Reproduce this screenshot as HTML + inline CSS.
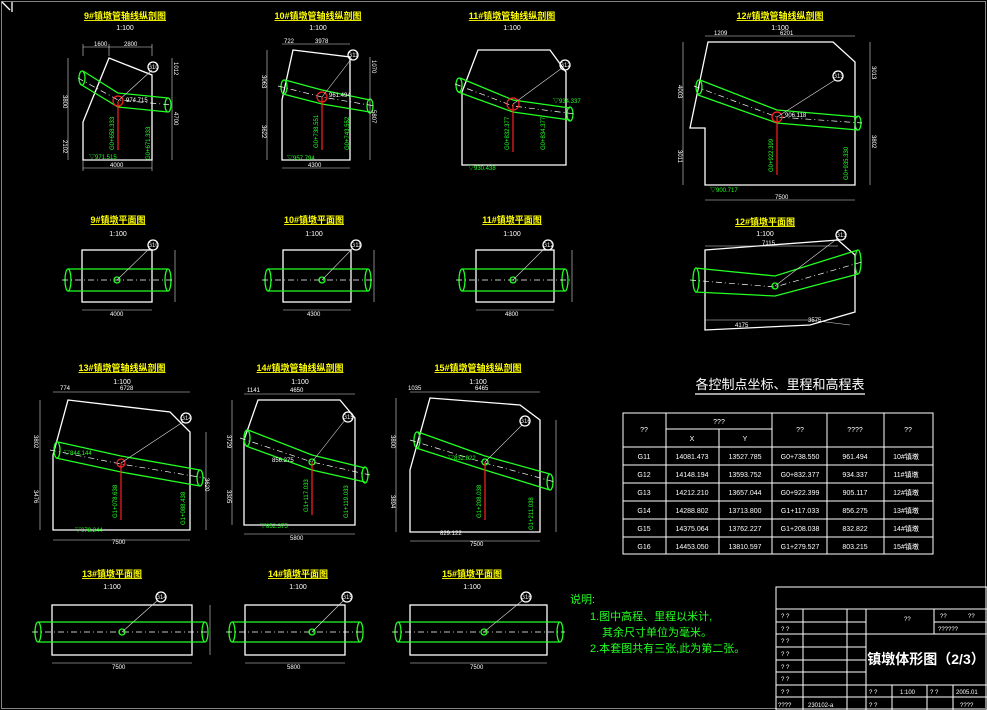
<!DOCTYPE html>
<html><head><meta charset="utf-8"><style>
html,body{margin:0;padding:0;background:#000;}
svg{display:block;font-family:"Liberation Sans","Noto Sans CJK SC",sans-serif;}
.w{stroke:#fff;fill:none;stroke-width:1.3}
.d{stroke:#ddd;fill:none;stroke-width:.6}
.g{stroke:#2f2;fill:none;stroke-width:1.3}
.c{stroke:#fff;fill:none;stroke-width:.7;stroke-dasharray:6 3 1 3}
.r{stroke:#f22;fill:none;stroke-width:1.2}
.t{fill:#fff;font-size:6px}
.tg{fill:#2f2;font-size:6px}
.y{fill:#ff0;font-size:9px;font-weight:bold;text-decoration:underline}
.s{fill:#fff;font-size:7px}
.tb{fill:#fff;font-size:8px}
</style></head><body>
<svg width="987" height="710" viewBox="0 0 987 710">
<rect x="0" y="0" width="987" height="710" fill="#000"/>
<rect x="1.5" y="1.5" width="984" height="707" class="d"/>
<path d="M2 2 L10 10 M12 2 L12 12" class="w"/>

<!-- ROW 1 titles -->
<text x="125" y="19" class="y" text-anchor="middle">9#镇墩管轴线纵剖图</text><text x="125" y="30" class="s" text-anchor="middle">1:100</text>
<text x="318" y="19" class="y" text-anchor="middle">10#镇墩管轴线纵剖图</text><text x="318" y="30" class="s" text-anchor="middle">1:100</text>
<text x="512" y="19" class="y" text-anchor="middle">11#镇墩管轴线纵剖图</text><text x="512" y="30" class="s" text-anchor="middle">1:100</text>
<text x="780" y="19" class="y" text-anchor="middle">12#镇墩管轴线纵剖图</text><text x="780" y="30" class="s" text-anchor="middle">1:100</text>

<!-- 9# elevation -->
<polygon points="109,58 152,75 152,160 83,160 83,122" class="w"/>
<path d="M83 71 L118 93 L168 98 M80 84 L118 107 L168 112" class="g"/>
<ellipse cx="82" cy="78" rx="3" ry="7" class="g"/><ellipse cx="168" cy="105" rx="3" ry="7" class="g"/>
<path d="M78 78 L118 100 L172 105" class="c"/>
<circle cx="118" cy="101" r="5" class="r"/><path d="M118 101 V150" class="r"/>
<path d="M118 101 L152 70" class="d"/><circle cx="153" cy="67" r="5" class="w"/><text x="153" y="69" class="t" text-anchor="middle">G10</text>
<text x="126" y="102" class="t">974.715</text><text x="89" y="159" class="tg">▽971.515</text>
<path d="M83 47 H152 M83 44 V56 M109 44 V56 M152 44 V56 M83 168 H152 M83 160 V171 M152 160 V171 M68 58 V160 M172 58 V160" class="d"/>
<text x="94" y="46" class="t">1600</text><text x="124" y="46" class="t">2800</text><text x="110" y="167" class="t">4000</text>
<text x="63" y="95" class="t" transform="rotate(90 63 95)">3800</text><text x="63" y="140" class="t" transform="rotate(90 63 140)">2102</text>
<text x="174" y="62" class="t" transform="rotate(90 174 62)">1012</text><text x="174" y="112" class="t" transform="rotate(90 174 112)">4700</text>
<text x="114" y="150" class="tg" transform="rotate(-90 114 150)">G0+658.333</text><text x="150" y="160" class="tg" transform="rotate(-90 150 160)">G0+671.333</text>

<!-- 10# elevation -->
<polygon points="293,50 350,57 350,160 282,160 282,100" class="w"/>
<path d="M285 80 L322 90 L370 100 M283 94 L322 104 L370 112" class="g"/>
<ellipse cx="284" cy="87" rx="3" ry="7" class="g"/><ellipse cx="370" cy="106" rx="3" ry="7" class="g"/>
<path d="M278 86 L322 97 L375 106" class="c"/>
<circle cx="322" cy="97" r="5" class="r"/><path d="M322 97 V150" class="r"/>
<path d="M322 97 L352 58" class="d"/><circle cx="353" cy="55" r="5" class="w"/><text x="353" y="57" class="t" text-anchor="middle">G11</text>
<text x="329" y="97" class="t">961.494</text><text x="287" y="160" class="tg">▽957.794</text>
<path d="M282 44 H350 M282 168 H350 M267 50 V160 M370 57 V160" class="d"/>
<text x="284" y="43" class="t">722</text><text x="315" y="43" class="t">3978</text><text x="308" y="167" class="t">4300</text>
<text x="262" y="75" class="t" transform="rotate(90 262 75)">3063</text><text x="262" y="125" class="t" transform="rotate(90 262 125)">3622</text>
<text x="372" y="60" class="t" transform="rotate(90 372 60)">1070</text><text x="372" y="110" class="t" transform="rotate(90 372 110)">5807</text>
<text x="318" y="148" class="tg" transform="rotate(-90 318 148)">G0+738.551</text><text x="349" y="150" class="tg" transform="rotate(-90 349 150)">G0+743.552</text>

<!-- 11# elevation -->
<polygon points="478,50 550,50 566,72 566,165 462,165 462,92" class="w"/>
<path d="M460 78 L513 100 L570 108 M458 92 L513 112 L570 120" class="g"/>
<ellipse cx="459" cy="85" rx="3" ry="7" class="g"/><ellipse cx="570" cy="114" rx="3" ry="7" class="g"/>
<path d="M455 84 L513 106 L575 114" class="c"/>
<circle cx="513" cy="104" r="6" class="r"/><path d="M513 104 V152" class="r"/>
<path d="M513 104 L562 68" class="d"/><circle cx="565" cy="65" r="5" class="w"/><text x="565" y="67" class="t" text-anchor="middle">G12</text>
<text x="553" y="103" class="tg">▽934.337</text><text x="468" y="170" class="tg">▽930.438</text>
<text x="509" y="150" class="tg" transform="rotate(-90 509 150)">G0+832.377</text><text x="545" y="150" class="tg" transform="rotate(-90 545 150)">G0+834.377</text>

<!-- 12# elevation -->
<polygon points="708,42 833,42 855,62 855,185 705,185 705,128 690,128" class="w"/>
<path d="M700 80 L777 110 L858 117 M698 95 L777 123 L858 130" class="g"/>
<ellipse cx="699" cy="87" rx="3" ry="7" class="g"/><ellipse cx="858" cy="123" rx="3" ry="7" class="g"/>
<path d="M694 86 L777 117 L862 123" class="c"/>
<circle cx="777" cy="117" r="5" class="r"/><path d="M777 117 V175" class="r"/>
<path d="M777 117 L835 80" class="d"/><circle cx="838" cy="76" r="5" class="w"/><text x="838" y="78" class="t" text-anchor="middle">G13</text>
<text x="785" y="117" class="t">906.118</text><text x="710" y="192" class="tg">▽900.717</text>
<path d="M705 36 H855 M705 200 H855 M683 42 V185 M870 42 V185" class="d"/>
<text x="714" y="35" class="t">1209</text><text x="780" y="35" class="t">6201</text><text x="775" y="199" class="t">7500</text>
<text x="678" y="85" class="t" transform="rotate(90 678 85)">4003</text><text x="678" y="150" class="t" transform="rotate(90 678 150)">3011</text>
<text x="872" y="66" class="t" transform="rotate(90 872 66)">3013</text><text x="872" y="135" class="t" transform="rotate(90 872 135)">3802</text>
<text x="773" y="172" class="tg" transform="rotate(-90 773 172)">G0+922.399</text><text x="848" y="180" class="tg" transform="rotate(-90 848 180)">G0+935.330</text>

<!-- ROW 2 plan titles -->
<text x="118" y="223" class="y" text-anchor="middle">9#镇墩平面图</text><text x="118" y="236" class="s" text-anchor="middle">1:100</text>
<text x="314" y="223" class="y" text-anchor="middle">10#镇墩平面图</text><text x="314" y="236" class="s" text-anchor="middle">1:100</text>
<text x="512" y="223" class="y" text-anchor="middle">11#镇墩平面图</text><text x="512" y="236" class="s" text-anchor="middle">1:100</text>
<text x="765" y="225" class="y" text-anchor="middle">12#镇墩平面图</text><text x="765" y="236" class="s" text-anchor="middle">1:100</text>

<g>
<rect x="82" y="250" width="70" height="52" class="w"/>
<path d="M68 269 H168 M68 291 H168" class="g"/><ellipse cx="68" cy="280" rx="3" ry="11" class="g"/><ellipse cx="168" cy="280" rx="3" ry="11" class="g"/>
<path d="M62 280 H172" class="c"/><circle cx="117" cy="280" r="3" class="g"/>
<path d="M117 280 L150 248" class="d"/><circle cx="153" cy="245" r="5" class="w"/><text x="153" y="247" class="t" text-anchor="middle">G10</text>
<path d="M82 310 H152 M175 250 V302" class="d"/><text x="110" y="316" class="t">4000</text>
</g>
<g>
<rect x="283" y="250" width="68" height="52" class="w"/>
<path d="M268 269 H368 M268 291 H368" class="g"/><ellipse cx="268" cy="280" rx="3" ry="11" class="g"/><ellipse cx="368" cy="280" rx="3" ry="11" class="g"/>
<path d="M262 280 H372" class="c"/><circle cx="322" cy="280" r="3" class="g"/>
<path d="M322 280 L353 248" class="d"/><circle cx="356" cy="245" r="5" class="w"/><text x="356" y="247" class="t" text-anchor="middle">G11</text>
<path d="M283 310 H351 M374 250 V302" class="d"/><text x="307" y="316" class="t">4300</text>
</g>
<g>
<rect x="476" y="250" width="78" height="52" class="w"/>
<path d="M462 269 H565 M462 291 H565" class="g"/><ellipse cx="462" cy="280" rx="3" ry="11" class="g"/><ellipse cx="565" cy="280" rx="3" ry="11" class="g"/>
<path d="M456 280 H570" class="c"/><circle cx="513" cy="280" r="3" class="g"/>
<path d="M513 280 L545 248" class="d"/><circle cx="548" cy="245" r="5" class="w"/><text x="548" y="247" class="t" text-anchor="middle">G12</text>
<path d="M476 310 H554 M572 250 V302" class="d"/><text x="505" y="316" class="t">4800</text>
</g>
<g>
<polygon points="705,250 838,240 855,255 855,312 810,325 705,330" class="w"/>
<path d="M695 268 L775 276 L858 250 M695 292 L775 296 L858 274" class="g"/><ellipse cx="696" cy="280" rx="3" ry="12" class="g"/><ellipse cx="858" cy="262" rx="3" ry="12" class="g"/>
<path d="M690 280 L775 287 L862 262" class="c"/><circle cx="775" cy="286" r="3" class="g"/>
<path d="M775 286 L838 238" class="d"/><circle cx="841" cy="235" r="5" class="w"/><text x="841" y="237" class="t" text-anchor="middle">G13</text>
<path d="M705 246 H838 M705 320 H810 L850 325" class="d"/><text x="762" y="245" class="t">7115</text><text x="735" y="327" class="t">4175</text><text x="808" y="322" class="t">3575</text>
</g>

<!-- ROW 3 titles -->
<text x="122" y="371" class="y" text-anchor="middle">13#镇墩管轴线纵剖图</text><text x="122" y="384" class="s" text-anchor="middle">1:100</text>
<text x="300" y="371" class="y" text-anchor="middle">14#镇墩管轴线纵剖图</text><text x="300" y="384" class="s" text-anchor="middle">1:100</text>
<text x="478" y="371" class="y" text-anchor="middle">15#镇墩管轴线纵剖图</text><text x="478" y="384" class="s" text-anchor="middle">1:100</text>

<!-- 13# -->
<polygon points="68,400 170,412 190,432 190,530 53,530 53,455" class="w"/>
<path d="M58 442 L121 456 L200 470 M56 458 L121 472 L200 486" class="g"/>
<ellipse cx="57" cy="450" rx="3" ry="8" class="g"/><ellipse cx="200" cy="478" rx="3" ry="8" class="g"/>
<path d="M50 450 L121 464 L205 478" class="c"/>
<circle cx="121" cy="463" r="4" class="r"/><path d="M121 463 V520" class="r"/>
<path d="M121 463 L183 422" class="d"/><circle cx="186" cy="418" r="5" class="w"/><text x="186" y="420" class="t" text-anchor="middle">G14</text>
<text x="64" y="455" class="tg">▽844.144</text><text x="75" y="532" class="tg">▽078.244</text>
<path d="M53 392 H190 M53 540 H190 M40 400 V530 M206 432 V530" class="d"/>
<text x="60" y="390" class="t">774</text><text x="120" y="390" class="t">6728</text><text x="112" y="544" class="t">7500</text>
<text x="34" y="435" class="t" transform="rotate(90 34 435)">3802</text><text x="34" y="490" class="t" transform="rotate(90 34 490)">3476</text>
<text x="205" y="478" class="t" transform="rotate(90 205 478)">3620</text>
<text x="117" y="518" class="tg" transform="rotate(-90 117 518)">G1+078.638</text><text x="185" y="525" class="tg" transform="rotate(-90 185 525)">G1+088.438</text>

<!-- 14# -->
<polygon points="258,400 340,400 355,418 355,525 244,525 244,440" class="w"/>
<path d="M248 430 L312 455 L365 468 M246 446 L312 470 L365 482" class="g"/>
<ellipse cx="247" cy="438" rx="3" ry="8" class="g"/><ellipse cx="365" cy="475" rx="3" ry="8" class="g"/>
<path d="M240 438 L312 462 L370 475" class="c"/>
<circle cx="312" cy="462" r="3" class="g"/><path d="M312 462 V515" class="r"/>
<path d="M312 462 L345 420" class="d"/><circle cx="348" cy="417" r="5" class="w"/><text x="348" y="419" class="t" text-anchor="middle">G15</text>
<text x="272" y="462" class="t">856.275</text><text x="260" y="528" class="tg">▽852.375</text>
<path d="M244 394 H355 M244 534 H355 M232 400 V525" class="d"/>
<text x="247" y="392" class="t">1141</text><text x="290" y="392" class="t">4650</text><text x="290" y="540" class="t">5800</text>
<text x="227" y="435" class="t" transform="rotate(90 227 435)">3729</text><text x="227" y="490" class="t" transform="rotate(90 227 490)">3305</text>
<text x="308" y="512" class="tg" transform="rotate(-90 308 512)">G1+117.033</text><text x="348" y="518" class="tg" transform="rotate(-90 348 518)">G1+119.033</text>

<!-- 15# -->
<polygon points="430,398 520,405 540,420 540,532 410,532 410,470" class="w"/>
<path d="M418 432 L485 456 L550 474 M416 448 L485 470 L550 490" class="g"/>
<ellipse cx="417" cy="440" rx="3" ry="8" class="g"/><ellipse cx="550" cy="482" rx="3" ry="8" class="g"/>
<path d="M410 440 L485 463 L555 482" class="c"/>
<circle cx="485" cy="462" r="3" class="g"/><path d="M485 462 V520" class="r"/>
<path d="M485 462 L522 425" class="d"/><circle cx="525" cy="421" r="5" class="w"/><text x="525" y="423" class="t" text-anchor="middle">G16</text>
<text x="448" y="460" class="tg">▽832.822</text><text x="440" y="535" class="t">829.122</text>
<path d="M410 392 H540 M410 541 H540 M396 398 V532 M556 420 V532" class="d"/>
<text x="408" y="390" class="t">1035</text><text x="475" y="390" class="t">6465</text><text x="470" y="546" class="t">7500</text>
<text x="391" y="435" class="t" transform="rotate(90 391 435)">3800</text><text x="391" y="495" class="t" transform="rotate(90 391 495)">3894</text>
<text x="481" y="518" class="tg" transform="rotate(-90 481 518)">G1+208.038</text><text x="533" y="530" class="tg" transform="rotate(-90 533 530)">G1+211.038</text>

<!-- ROW 4 plans -->
<text x="112" y="577" class="y" text-anchor="middle">13#镇墩平面图</text><text x="112" y="589" class="s" text-anchor="middle">1:100</text>
<text x="298" y="577" class="y" text-anchor="middle">14#镇墩平面图</text><text x="298" y="589" class="s" text-anchor="middle">1:100</text>
<text x="472" y="577" class="y" text-anchor="middle">15#镇墩平面图</text><text x="472" y="589" class="s" text-anchor="middle">1:100</text>
<g>
<rect x="52" y="605" width="140" height="50" class="w"/>
<path d="M38 622 H205 M38 642 H205" class="g"/><ellipse cx="38" cy="632" rx="3" ry="10" class="g"/><ellipse cx="205" cy="632" rx="3" ry="10" class="g"/>
<path d="M32 632 H210" class="c"/><circle cx="122" cy="632" r="3" class="g"/>
<path d="M122 632 L158 600" class="d"/><circle cx="161" cy="597" r="5" class="w"/><text x="161" y="599" class="t" text-anchor="middle">G14</text>
<path d="M52 663 H192 M210 605 V655" class="d"/><text x="112" y="669" class="t">7500</text>
</g>
<g>
<rect x="245" y="605" width="100" height="50" class="w"/>
<path d="M232 622 H360 M232 642 H360" class="g"/><ellipse cx="232" cy="632" rx="3" ry="10" class="g"/><ellipse cx="360" cy="632" rx="3" ry="10" class="g"/>
<path d="M226 632 H365" class="c"/><circle cx="312" cy="632" r="3" class="g"/>
<path d="M312 632 L344 600" class="d"/><circle cx="347" cy="597" r="5" class="w"/><text x="347" y="599" class="t" text-anchor="middle">G15</text>
<path d="M245 663 H345" class="d"/><text x="287" y="669" class="t">5800</text>
</g>
<g>
<rect x="410" y="605" width="137" height="50" class="w"/>
<path d="M398 622 H560 M398 642 H560" class="g"/><ellipse cx="398" cy="632" rx="3" ry="10" class="g"/><ellipse cx="560" cy="632" rx="3" ry="10" class="g"/>
<path d="M392 632 H565" class="c"/><circle cx="484" cy="632" r="3" class="g"/>
<path d="M484 632 L523 600" class="d"/><circle cx="526" cy="597" r="5" class="w"/><text x="526" y="599" class="t" text-anchor="middle">G16</text>
<path d="M410 663 H547" class="d"/><text x="470" y="669" class="t">7500</text>
</g>

<!-- Table -->
<text x="780" y="389" fill="#fff" font-size="13" text-anchor="middle">各控制点坐标、里程和高程表</text>
<path d="M695 394 H865" class="w" stroke-width="1"/>
<g stroke="#fff" stroke-width="1" fill="none">
<rect x="623" y="413" width="310" height="141"/>
<path d="M666 413 V554 M772 413 V554 M827 413 V554 M884 413 V554 M719 429 V554 M666 429 H772 M623 447 H933 M623 465 H933 M623 483 H933 M623 501 H933 M623 519 H933 M623 537 H933"/>
</g>
<g class="s" fill="#fff" font-size="7">
<text x="644" y="432" text-anchor="middle">??</text><text x="719" y="424" text-anchor="middle">???</text>
<text x="692" y="441" text-anchor="middle">X</text><text x="745" y="441" text-anchor="middle">Y</text>
<text x="800" y="432" text-anchor="middle">??</text><text x="855" y="432" text-anchor="middle">????</text><text x="908" y="432" text-anchor="middle">??</text>
<text x="644" y="459" text-anchor="middle">G11</text><text x="692" y="459" text-anchor="middle">14081.473</text><text x="745" y="459" text-anchor="middle">13527.785</text><text x="800" y="459" text-anchor="middle">G0+738.550</text><text x="855" y="459" text-anchor="middle">961.494</text><text x="906" y="459" text-anchor="middle">10#镇墩</text>
<text x="644" y="477" text-anchor="middle">G12</text><text x="692" y="477" text-anchor="middle">14148.194</text><text x="745" y="477" text-anchor="middle">13593.752</text><text x="800" y="477" text-anchor="middle">G0+832.377</text><text x="855" y="477" text-anchor="middle">934.337</text><text x="906" y="477" text-anchor="middle">11#镇墩</text>
<text x="644" y="495" text-anchor="middle">G13</text><text x="692" y="495" text-anchor="middle">14212.210</text><text x="745" y="495" text-anchor="middle">13657.044</text><text x="800" y="495" text-anchor="middle">G0+922.399</text><text x="855" y="495" text-anchor="middle">905.117</text><text x="906" y="495" text-anchor="middle">12#镇墩</text>
<text x="644" y="513" text-anchor="middle">G14</text><text x="692" y="513" text-anchor="middle">14288.802</text><text x="745" y="513" text-anchor="middle">13713.800</text><text x="800" y="513" text-anchor="middle">G1+117.033</text><text x="855" y="513" text-anchor="middle">856.275</text><text x="906" y="513" text-anchor="middle">13#镇墩</text>
<text x="644" y="531" text-anchor="middle">G15</text><text x="692" y="531" text-anchor="middle">14375.064</text><text x="745" y="531" text-anchor="middle">13762.227</text><text x="800" y="531" text-anchor="middle">G1+208.038</text><text x="855" y="531" text-anchor="middle">832.822</text><text x="906" y="531" text-anchor="middle">14#镇墩</text>
<text x="644" y="549" text-anchor="middle">G16</text><text x="692" y="549" text-anchor="middle">14453.050</text><text x="745" y="549" text-anchor="middle">13810.597</text><text x="800" y="549" text-anchor="middle">G1+279.527</text><text x="855" y="549" text-anchor="middle">803.215</text><text x="906" y="549" text-anchor="middle">15#镇墩</text>
</g>

<!-- Notes -->
<g fill="#2f2" font-size="11">
<text x="570" y="603">说明:</text>
<text x="590" y="620">1.图中高程、里程以米计,</text>
<text x="602" y="636">其余尺寸单位为毫米。</text>
<text x="590" y="652">2.本套图共有三张,此为第二张。</text>
</g>

<!-- Title block -->
<g stroke="#fff" stroke-width="1" fill="none">
<rect x="776" y="587" width="211" height="123"/>
<path d="M776 609 H987 M776 622 H866 M776 634 H866 M776 647 H866 M776 660 H866 M776 672 H866 M776 685 H987 M776 697 H987 M934 622 H987 M866 634 H987 M803 609 V710 M847 609 V710 M866 609 V710 M934 609 V634 M892 685 V710 M927 685 V710 M953 685 V710"/>
</g>
<g fill="#fff" font-size="6">
<text x="781" y="618">? ?</text><text x="781" y="631">? ?</text><text x="781" y="643">? ?</text><text x="781" y="656">? ?</text><text x="781" y="669">? ?</text><text x="781" y="681">? ?</text><text x="781" y="694">? ?</text><text x="778" y="707">????</text>
<text x="808" y="707">230102-a</text><text x="869" y="694">? ?</text><text x="869" y="707">? ?</text>
<text x="900" y="694">1:100</text><text x="930" y="694">? ?</text><text x="956" y="694">2005.01</text><text x="960" y="707">????</text>
<text x="904" y="621">??</text><text x="940" y="618">??</text><text x="968" y="618">??</text><text x="938" y="631">??????</text>
</g>
<text x="926" y="664" fill="#fff" font-size="14" text-anchor="middle" font-weight="bold">镇墩体形图（2/3）</text>
</svg>
</body></html>
